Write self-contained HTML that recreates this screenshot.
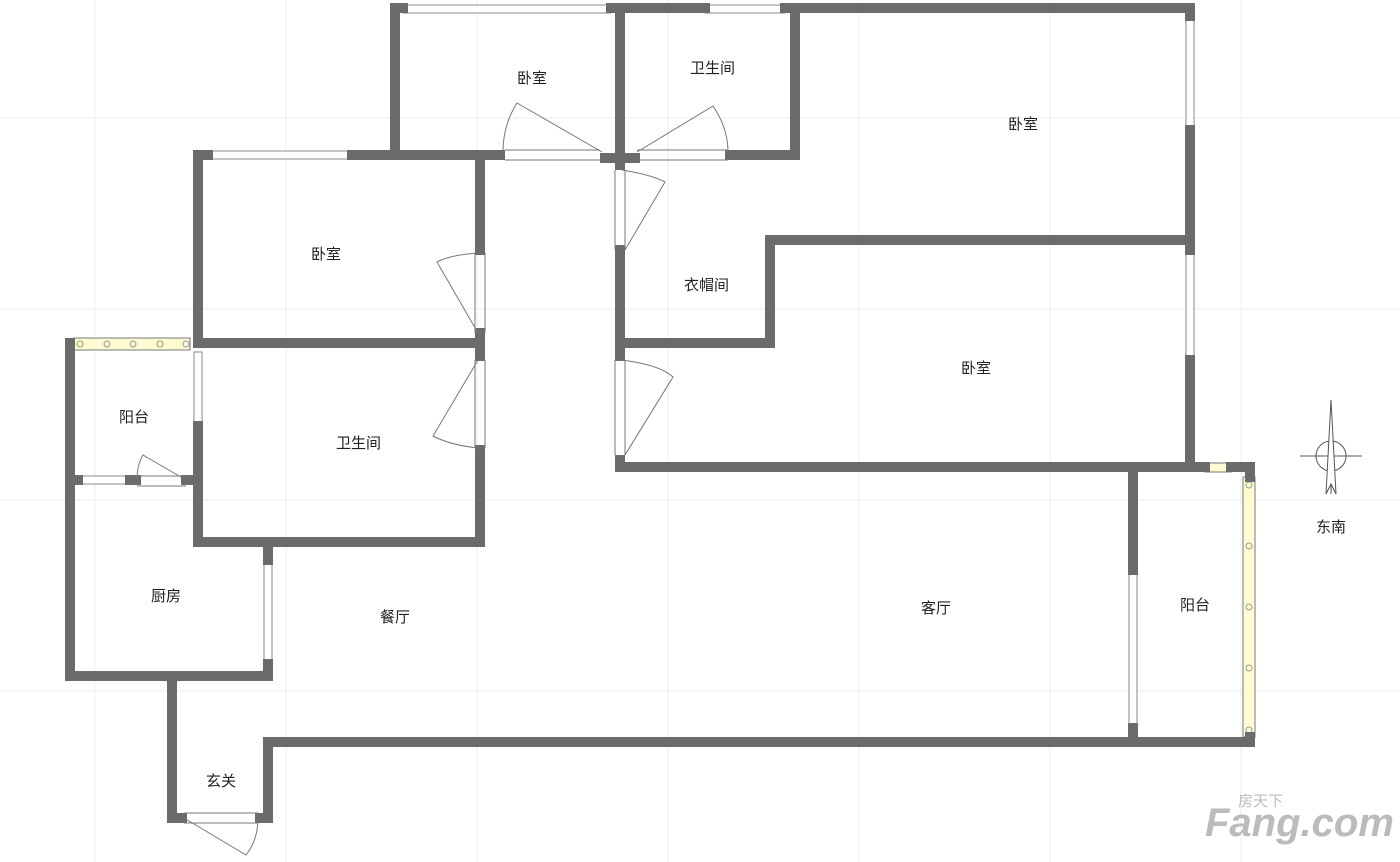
<!DOCTYPE html>
<html><head><meta charset="utf-8"><style>
html,body{margin:0;padding:0;background:#fff;}
svg{display:block;}
text{font-family:"Liberation Sans","Noto Sans CJK SC",sans-serif;font-size:15px;fill:#222;}
</style></head><body>
<svg width="1400" height="862" viewBox="0 0 1400 862" xmlns="http://www.w3.org/2000/svg">
<g stroke="#ececec" stroke-width="1">
<line x1="95" y1="0" x2="95" y2="862"/><line x1="286" y1="0" x2="286" y2="862"/><line x1="477" y1="0" x2="477" y2="862"/><line x1="668" y1="0" x2="668" y2="862"/><line x1="859" y1="0" x2="859" y2="862"/><line x1="1050" y1="0" x2="1050" y2="862"/><line x1="1241" y1="0" x2="1241" y2="862"/>
<line x1="0" y1="118" x2="1400" y2="118"/><line x1="0" y1="309" x2="1400" y2="309"/><line x1="0" y1="500" x2="1400" y2="500"/><line x1="0" y1="691" x2="1400" y2="691"/>
</g>
<!-- windows -->
<g fill="#fff" stroke="#888" stroke-width="1">
<rect x="403" y="5" width="208" height="8"/><rect x="705" y="5" width="80" height="8"/>
<rect x="1186" y="16" width="8" height="114"/><rect x="1186" y="250" width="8" height="110"/>
<rect x="208" y="151" width="144" height="8"/><rect x="194" y="352" width="8" height="74"/>
<rect x="78" y="476" width="52" height="8"/><rect x="1129" y="492" width="8" height="236"/>
<rect x="264" y="560" width="8" height="104"/>
</g>
<!-- yellow railings -->
<rect x="74" y="338" width="116" height="12" fill="#fdfbd0" stroke="#777"/>
<g fill="none" stroke="#999"><circle cx="80" cy="344" r="3"/><circle cx="107" cy="344" r="3"/><circle cx="133" cy="344" r="3"/><circle cx="160" cy="344" r="3"/><circle cx="186" cy="344" r="3"/></g>
<rect x="1243" y="477" width="12" height="260" fill="#fdfbd0" stroke="#777"/>
<g fill="none" stroke="#999"><circle cx="1249" cy="485" r="3"/><circle cx="1249" cy="546" r="3"/><circle cx="1249" cy="607" r="3"/><circle cx="1249" cy="668" r="3"/><circle cx="1249" cy="730" r="3"/></g>
<rect x="1205" y="463" width="26" height="9" fill="#fdfbd0" stroke="#777"/>
<!-- walls -->
<g stroke="#6b6b6b" stroke-width="10" fill="none" stroke-linecap="square">
<polyline points="395,150 395,8 403,8"/><line x1="611" y1="8" x2="705" y2="8"/><polyline points="785,8 1190,8 1190,16"/>
<line x1="1190" y1="130" x2="1190" y2="250"/><polyline points="1190,360 1190,467 1205,467"/><polyline points="1231,467 1250,467 1250,477"/>
<line x1="1250" y1="737" x2="1250" y2="742"/>
<polyline points="198,343 198,155 208,155"/><line x1="352" y1="155" x2="480" y2="155"/>
<line x1="480" y1="155" x2="480" y2="250"/><line x1="480" y1="333" x2="480" y2="356"/><line x1="480" y1="450" x2="480" y2="542"/>
<polyline points="198,426 198,542 480,542"/><line x1="198" y1="343" x2="480" y2="343"/>
<line x1="70" y1="343" x2="70" y2="676"/><polyline points="70,676 268,676 268,664"/><line x1="268" y1="560" x2="268" y2="545"/>
<line x1="70" y1="480" x2="78" y2="480"/><line x1="130" y1="480" x2="136" y2="480"/><line x1="186" y1="480" x2="198" y2="480"/>
<polyline points="172,676 172,818 182,818"/><polyline points="260,818 268,818 268,742 1250,742"/>
<line x1="395" y1="155" x2="500" y2="155"/><line x1="605" y1="158" x2="635" y2="158"/><polyline points="730,155 795,155 795,8"/>
<line x1="620" y1="8" x2="620" y2="165"/><line x1="620" y1="250" x2="620" y2="356"/><line x1="620" y1="460" x2="620" y2="467"/>
<line x1="620" y1="467" x2="1190" y2="467"/>
<polyline points="620,343 770,343 770,240 1190,240"/>
<line x1="1133" y1="472" x2="1133" y2="570"/><line x1="1133" y1="728" x2="1133" y2="742"/>
</g>
<!-- doors -->
<g fill="none" stroke="#777" stroke-width="1">
<path d="M602,152 L517,103 Q503,125 503,152"/><line x1="505" y1="150" x2="600" y2="150"/><line x1="505" y1="160" x2="600" y2="160"/>
<path d="M637,152 L713,106 Q728,128 728,152"/><line x1="637" y1="150" x2="728" y2="150"/><line x1="637" y1="160" x2="728" y2="160"/>
<path d="M622,170 Q652,175 665,182 L625,250"/><line x1="615" y1="170" x2="615" y2="250"/><line x1="625" y1="170" x2="625" y2="250"/>
<path d="M622,360 Q660,365 673,377 L625,455"/><line x1="615" y1="360" x2="615" y2="455"/><line x1="625" y1="360" x2="625" y2="455"/>
<path d="M478,253 Q450,255 437,262 L478,333"/><line x1="475" y1="253" x2="475" y2="333"/><line x1="485" y1="253" x2="485" y2="333"/>
<path d="M478,360 L433,436 Q450,445 478,448"/><line x1="475" y1="360" x2="475" y2="448"/><line x1="485" y1="360" x2="485" y2="448"/>
<path d="M186,480 L143,455 Q137,465 137,480"/><line x1="137" y1="476" x2="186" y2="476"/><line x1="137" y1="486" x2="186" y2="486"/>
<path d="M184,818 L246,855 Q258,840 258,818"/><line x1="184" y1="813" x2="258" y2="813"/><line x1="184" y1="823" x2="258" y2="823"/>
</g>
<!-- labels -->
<text x="517" y="83">卧室</text><text x="690" y="73">卫生间</text><text x="1008" y="129">卧室</text>
<text x="311" y="259">卧室</text><text x="684" y="290">衣帽间</text><text x="961" y="373">卧室</text>
<text x="119" y="422">阳台</text><text x="336" y="448">卫生间</text><text x="151" y="601">厨房</text>
<text x="380" y="622">餐厅</text><text x="921" y="613">客厅</text><text x="1180" y="610">阳台</text>
<text x="206" y="786">玄关</text><text x="1316" y="532">东南</text>
<!-- compass -->
<g stroke="#555" fill="none"><circle cx="1331" cy="456" r="15"/><line x1="1300" y1="456" x2="1362" y2="456"/><line x1="1331" y1="400" x2="1331" y2="494"/></g>
<path d="M1331,400 L1336,494 L1331,484 L1326,494 Z" fill="#fff" stroke="#555"/>
<text x="1205" y="836" style="font-size:40px;font-weight:bold;font-style:italic;fill:#bbb">Fang.com</text>
<text x="1238" y="806" style="font-size:15px;fill:#bbb">房天下</text>
</svg>
</body></html>
